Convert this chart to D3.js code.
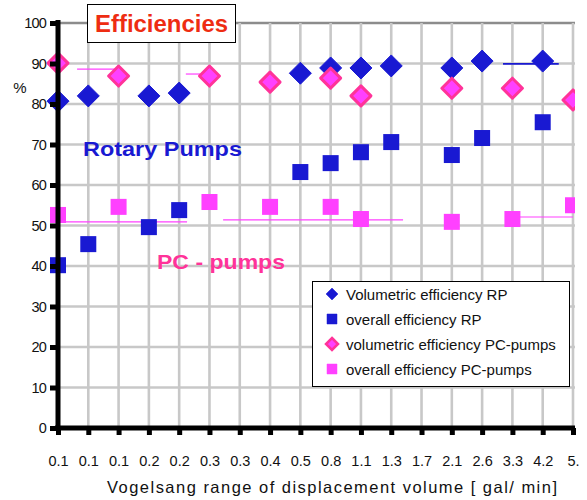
<!DOCTYPE html>
<html>
<head>
<meta charset="utf-8">
<script src="https://cdn.jsdelivr.net/npm/d3@7"></script>
<style>
  body { margin: 0; background: #fff; }
  svg { font-family: 'Liberation Sans', Arial, sans-serif; }
</style>
</head>
<body>
<div id="chart"></div>
<script>
// x categories (displacement volume, gal/min)
var categories = ['0.1', '0.1', '0.1', '0.2', '0.2', '0.3', '0.3', '0.4', '0.5',
  '0.8', '1.1', '1.3', '1.7', '2.1', '2.6', '3.3', '4.2', '5.']

// series: [category index, value %]
var volRP = [[0, 80.7], [1, 82], [3, 82], [4, 82.7], [8, 87.6], [9, 88.9],
  [10, 88.9], [11, 89.4], [13, 88.9], [14, 90.6], [16, 90.6]]
var overallRP = [[0, 40.2], [1, 45.4], [3, 49.6], [4, 53.8], [8, 63.2], [9, 65.4],
  [10, 68.1], [11, 70.6], [13, 67.4], [14, 71.6], [16, 75.5]]
var volPC = [[0, 90.1], [2, 86.9], [5, 86.9], [7, 85.4], [9, 86.4], [10, 82],
  [13, 83.9], [15, 83.9], [17, 81]]
var overallPC = [[0, 52.6], [2, 54.6], [5, 55.8], [7, 54.6], [9, 54.6], [10, 51.6],
  [13, 50.9], [15, 51.6], [17, 55]]

// thin range lines: [from index, to index, value, series]
var rangeLines = [[0, 4.26, 50.9, 'pc'], [5.45, 11.39, 51.4, 'pc'], [15.25, 17, 52.1, 'pc'],
  [0.63, 1.88, 88.6, 'pc'], [4.22, 4.69, 87.4, 'pc'], [14.69, 16.53, 89.9, 'rp']]

var yTicks = [0, 10, 20, 30, 40, 50, 60, 70, 80, 90, 100]

var blue = '#1919d2'
var pink = '#ff3399'
var magenta = '#ff40ff'

var width = 587, height = 500
var svg = d3.select('#chart').append('svg')
  .attr('width', width).attr('height', height)

var x = d3.scaleLinear().domain([0, categories.length - 1]).range([58, 573])
var y = d3.scaleLinear().domain([0, 100]).range([428, 23])

svg.append('defs').append('clipPath').attr('id', 'plotclip')
  .append('rect').attr('x', 40).attr('y', 0).attr('width', 535).attr('height', 440)

var plot = svg.append('g').attr('clip-path', 'url(#plotclip)')

// grid
plot.append('g').selectAll('line.h')
  .data(yTicks.filter(function (d) { return d > 0 }))
  .enter().append('line')
  .attr('x1', x(0)).attr('x2', 575)
  .attr('y1', function (d) { return y(d) }).attr('y2', function (d) { return y(d) })
  .attr('stroke', function (d) { return d === 100 ? '#8c8c8c' : '#c8c8c8' })
  .attr('stroke-width', 2.6)

plot.append('g').selectAll('line.v')
  .data(d3.range(1, categories.length))
  .enter().append('line')
  .attr('x1', function (d) { return x(d) }).attr('x2', function (d) { return x(d) })
  .attr('y1', y(100)).attr('y2', y(0))
  .attr('stroke', '#c8c8c8')
  .attr('stroke-width', 2.6)

// range lines
plot.append('g').selectAll('line')
  .data(rangeLines)
  .enter().append('line')
  .attr('x1', function (d) { return x(d[0]) }).attr('x2', function (d) { return x(d[1]) })
  .attr('y1', function (d) { return y(d[2]) }).attr('y2', function (d) { return y(d[2]) })
  .attr('stroke', function (d) { return d[3] === 'rp' ? blue : magenta })
  .attr('stroke-width', function (d) { return d[3] === 'rp' ? 1.6 : 1.2 })

function diamond (sel, data, fill, stroke, r, sw) {
  sel.selectAll('path')
    .data(data)
    .enter().append('path')
    .attr('d', function (d) {
      var cx = x(d[0]), cy = y(d[1])
      return 'M' + cx + ',' + (cy - r) + 'L' + (cx + r) + ',' + cy +
        'L' + cx + ',' + (cy + r) + 'L' + (cx - r) + ',' + cy + 'Z'
    })
    .attr('fill', fill)
    .attr('stroke', stroke)
    .attr('stroke-width', sw)
    .attr('stroke-linejoin', 'round')
}

function square (sel, data, fill, s) {
  sel.selectAll('rect')
    .data(data)
    .enter().append('rect')
    .attr('x', function (d) { return x(d[0]) - s / 2 })
    .attr('y', function (d) { return y(d[1]) - s / 2 })
    .attr('width', s).attr('height', s)
    .attr('fill', fill)
}

diamond(plot.append('g'), volRP, blue, blue, 11, 1)
square(plot.append('g'), overallRP, blue, 16)
diamond(plot.append('g'), volPC, magenta, pink, 10, 3)
square(plot.append('g'), overallPC, magenta, 16)

// axes
var yAxis = svg.append('g').attr('transform', 'translate(' + x(0) + ',0)')
  .call(d3.axisLeft(y).tickValues(yTicks).tickSize(8).tickPadding(4))
yAxis.select('.domain').attr('stroke', '#000').attr('stroke-width', 5)
  .attr('d', 'M0,' + (y(100) - 3) + 'V' + (y(0) + 2))
yAxis.selectAll('.tick line').attr('stroke', '#000').attr('stroke-width', 5)
yAxis.selectAll('.tick text').attr('fill', '#111').style('font-size', '14.5px')
  .style('letter-spacing', '-0.8px')

var xAxis = svg.append('g').attr('transform', 'translate(0,' + y(0) + ')')
  .call(d3.axisBottom(x).tickValues(d3.range(categories.length))
    .tickFormat(function (d) { return categories[d] }).tickSize(7).tickPadding(21))
xAxis.select('.domain').attr('stroke', '#000').attr('stroke-width', 5)
  .attr('d', 'M' + (x(0) - 3) + ',0H575')
xAxis.selectAll('.tick line').attr('stroke', '#000').attr('stroke-width', 5)
xAxis.selectAll('.tick text').attr('fill', '#111').style('font-size', '14.5px')

svg.append('text')
  .attr('x', 107).attr('y', 493)
  .attr('textLength', 450).attr('lengthAdjust', 'spacing')
  .style('font-size', '16.5px')
  .attr('fill', '#111')
  .text('Vogelsang range of displacement volume [ gal/ min]')

svg.append('text')
  .attr('x', 20).attr('y', 93)
  .attr('text-anchor', 'middle')
  .style('font-size', '15px')
  .attr('fill', '#111')
  .text('%')

// title box
svg.append('rect')
  .attr('x', 87.5).attr('y', 4.5).attr('width', 148).attr('height', 38)
  .attr('fill', '#fff').attr('stroke', '#000').attr('stroke-width', 1)
svg.append('text')
  .attr('x', 95).attr('y', 32)
  .attr('textLength', 133).attr('lengthAdjust', 'spacingAndGlyphs')
  .style('font-size', '23px').style('font-weight', 'bold')
  .attr('fill', '#ee2c12')
  .text('Efficiencies')

svg.append('text')
  .attr('x', 83).attr('y', 156)
  .attr('textLength', 159).attr('lengthAdjust', 'spacingAndGlyphs')
  .style('font-size', '21px').style('font-weight', 'bold')
  .attr('fill', blue)
  .text('Rotary Pumps')

svg.append('text')
  .attr('x', 157).attr('y', 269)
  .attr('textLength', 128).attr('lengthAdjust', 'spacingAndGlyphs')
  .style('font-size', '21px').style('font-weight', 'bold')
  .attr('fill', pink)
  .text('PC - pumps')

// legend
var legendItems = [
  { name: 'Volumetric efficiency RP', shape: 'diamond', fill: blue, stroke: blue },
  { name: 'overall efficiency RP', shape: 'square', fill: blue, stroke: blue },
  { name: 'volumetric efficiency PC-pumps', shape: 'diamond', fill: magenta, stroke: pink },
  { name: 'overall efficiency PC-pumps', shape: 'square', fill: magenta, stroke: magenta }
]
var legend = svg.append('g')
legend.append('rect')
  .attr('x', 312.5).attr('y', 281.5).attr('width', 257).attr('height', 105)
  .attr('fill', '#fff').attr('stroke', '#000').attr('stroke-width', 1)
var li = legend.selectAll('g.item')
  .data(legendItems)
  .enter().append('g')
  .attr('class', 'item')
  .attr('transform', function (d, i) { return 'translate(332,' + (294 + i * 25) + ')' })
li.append('path')
  .attr('d', function (d) {
    return d.shape === 'diamond' ? 'M0,-6L6,0L0,6L-6,0Z' : 'M-5,-5H5V5H-5Z'
  })
  .attr('fill', function (d) { return d.fill })
  .attr('stroke', function (d) { return d.stroke })
  .attr('stroke-width', function (d) { return d.shape === 'diamond' && d.stroke === pink ? 2.5 : 0.5 })
li.append('text')
  .attr('x', 14).attr('y', 5.5)
  .style('font-size', '15px')
  .attr('fill', '#111')
  .text(function (d) { return d.name })
</script>
</body>
</html>
